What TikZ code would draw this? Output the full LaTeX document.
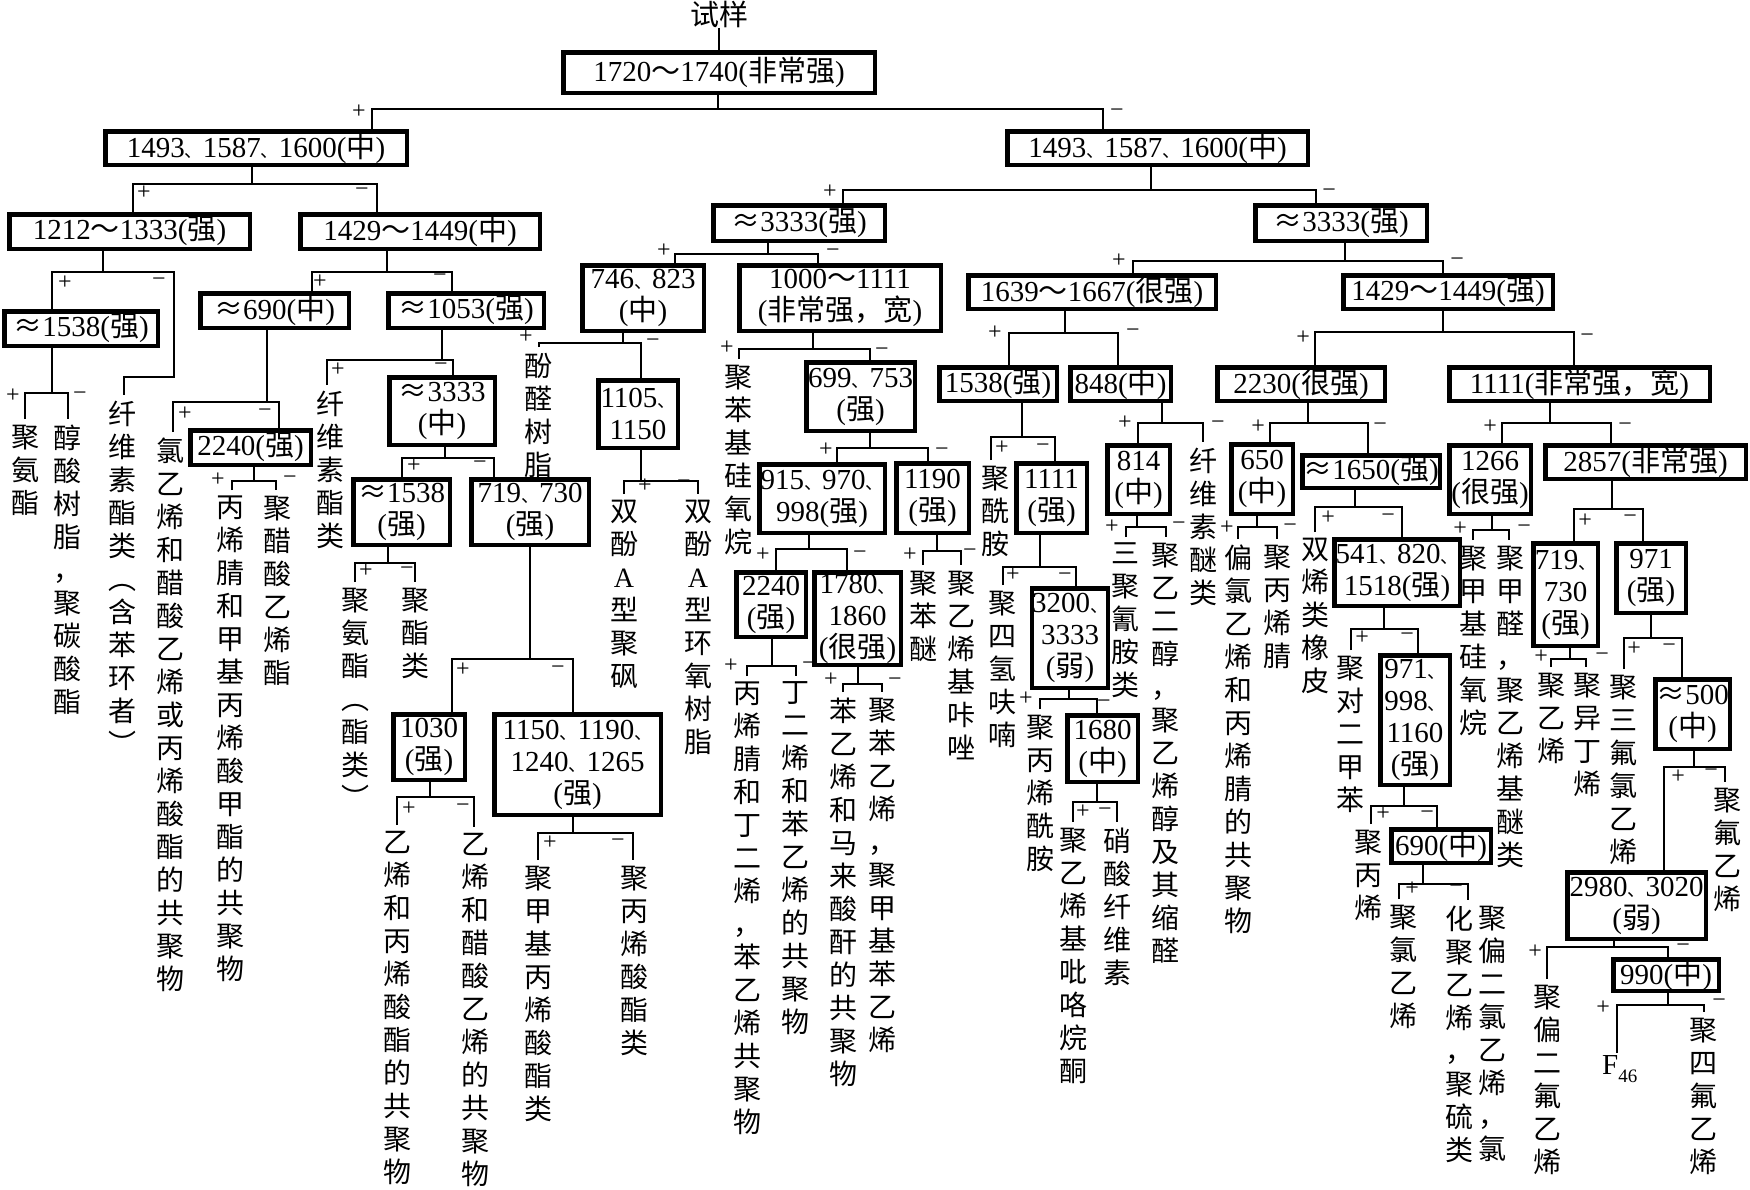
\documentclass[tikz,border=0pt]{standalone}
\usepackage{fontspec}
\setmainfont{Liberation Serif}
\newfontfamily\cjk{Noto Sans CJK SC}
\newcommand\Zh[1]{{\cjk #1}}
\newcommand\Dn{{\cjk\fontsize{18}{18}\selectfont 、}}
\newcommand\Tl{{\cjk ～}}
\newcommand\Ap{{\cjk ≈}}
\newcommand\myA{{\rmfamily A}}
\def\stackA#1{\ifx\relax#1\else\hbox to 28pt{\hss#1\hss}\expandafter\stackA\fi}
\newcommand\Stk[1]{\vbox{\baselineskip=33pt\lineskiplimit=-40pt\lineskip=0pt\stackA#1\relax}}
\newcommand\Bx[6]{\node[bx,minimum width={#4-#2-4.5},minimum height={#5-#3-4.5}] (#1) at ({(#2+#4)/2},{(#3+#5)/2}) {#6};}
\newcommand\Vt[4]{\node[lab] (#1) at (#2,{#3-18}) {\Stk{#4}};}
\newcommand\Br[7]{\draw[ln] (#1.south -| #2,0) -- (#2,#3);
  \draw[ln] (#5.north -| #4,0) |- (#6,#3) -- (#7.north -| #6,0);}
\newcommand\Sg[4]{\node[sgn] (#1) at (#2,#3) {#4};}
\begin{document}
\begin{tikzpicture}[x=1pt,y=-1pt,
 bx/.style={draw,line width=4.5pt,inner sep=0pt,align=center,font=\fontsize{29}{32}\selectfont},
 lab/.style={anchor=north,inner sep=0pt,outer xsep=0pt,outer ysep=6pt,font=\cjk\fontsize{28}{33}\selectfont},
 ln/.style={line width=1.6pt},
 sgn/.style={inner sep=0pt,font=\fontsize{24}{24}\selectfont}]
\useasboundingbox (0,0) rectangle (1750,1189);

\node[inner sep=0pt,font=\cjk\fontsize{29}{32}\selectfont] (T) at (719,14) {试样};
\Bx{R}{561}{50}{877}{95}{1720\Tl1740(\Zh{非常强})}
\draw[ln] (T.south) -- (R.north);

\Bx{A}{103}{129}{409}{167}{1493\Dn1587\Dn1600(\Zh{中})}
\Bx{B}{1005}{129}{1310}{167}{1493\Dn1587\Dn1600(\Zh{中})}
\Br{R}{718}{109}{372}{A}{1103}{B}
\Sg{s1}{359}{112}{+} \Sg{s2}{1117}{113}{−}

% ---------- left half ----------
\Bx{A1}{7}{212}{252}{251}{1212\Tl1333(\Zh{强})}
\Bx{A2}{298}{212}{542}{251}{1429\Tl1449(\Zh{中})}
\Br{A}{252}{184}{133}{A1}{377}{A2}
\Sg{s3}{144}{193}{+} \Sg{s4}{362}{192}{−}

\Bx{A1a}{2}{309}{160}{348}{\Ap1538(\Zh{强})}
\Vt{Lc}{122}{413}{纤维素酯类︵含苯环者︶}
\draw[ln] (A1.south -| 103,0) -- (103,272);
\draw[ln] (A1a.north -| 52,0) |- (174,272) -- (174,377) -| (Lc.north -| 124,0);
\Sg{s5}{65}{283}{+} \Sg{s6}{159}{282}{−}

\Vt{L1}{26}{437}{聚氨酯}
\Vt{L2}{67}{437}{醇酸树脂，聚碳酸酯}
\Br{A1a}{52}{393}{25}{L1}{68}{L2}
\Sg{s7}{13}{396}{+} \Sg{s8}{80}{396}{−}

\Bx{A2a}{198}{291}{351}{330}{\Ap690(\Zh{中})}
\Bx{A2b}{386}{291}{546}{330}{\Ap1053(\Zh{强})}
\Br{A2}{387}{272}{312}{A2a}{452}{A2b}
\Sg{s9}{320}{282}{+} \Sg{s10}{440}{278}{−}

\Vt{L3}{170}{450}{氯乙烯和醋酸乙烯或丙烯酸酯的共聚物}
\Bx{A2a2}{188}{428}{313}{467}{2240(\Zh{强})}
\Br{A2a}{267}{402}{173}{L3}{279}{A2a2}
\Sg{s11}{185}{414}{+} \Sg{s12}{265}{413}{−}

\Vt{L4}{230}{508}{丙烯腈和甲基丙烯酸甲酯的共聚物}
\Vt{L5}{277}{508}{聚醋酸乙烯酯}
\Br{A2a2}{254}{481}{232}{L4}{276}{L5}
\Sg{s13}{218}{480}{+} \Sg{s14}{290}{480}{−}

\Vt{L6}{330}{403}{纤维素酯类}
\Bx{A2b2}{387}{375}{497}{447}{\Ap3333\\(\Zh{中})}
\Br{A2b}{442}{360}{327}{L6}{453}{A2b2}
\Sg{s15}{338}{370}{+} \Sg{s16}{441}{367}{−}

\Bx{A2b2a}{351}{477}{452}{547}{\Ap1538\\(\Zh{强})}
\Bx{A2b2b}{469}{477}{591}{547}{719\Dn730\\(\Zh{强})}
\Br{A2b2}{445}{458}{402}{A2b2a}{494}{A2b2b}
\Sg{s17}{414}{466}{+} \Sg{s18}{480}{465}{−}

\Vt{L7}{355}{600}{聚氨酯︵酯类︶}
\Vt{L8}{415}{600}{聚酯类}
\Br{A2b2a}{388}{563}{355}{L7}{415}{L8}
\Sg{s19}{366}{571}{+} \Sg{s20}{407}{571}{−}

\Bx{C1030}{391}{712}{467}{782}{1030\\(\Zh{强})}
\Bx{C1150}{492}{712}{663}{817}{1150\Dn1190\Dn\\1240\Dn1265\\(\Zh{强})}
\Br{A2b2b}{530}{659}{452}{C1030}{573}{C1150}
\Sg{s21}{463}{670}{+} \Sg{s22}{558}{670}{−}

\Vt{L9}{397}{843}{乙烯和丙烯酸酯的共聚物}
\Vt{L10}{475}{845}{乙烯和醋酸乙烯的共聚物}
\Br{C1030}{430}{797}{397}{L9}{474}{L10}
\Sg{s23}{409}{809}{+} \Sg{s24}{463}{808}{−}

\Vt{L11}{538}{878}{聚甲基丙烯酸酯类}
\Vt{L12}{634}{878}{聚丙烯酸酯类}
\Br{C1150}{573}{833}{538}{L11}{633}{L12}
\Sg{s25}{550}{843}{+} \Sg{s26}{618}{843}{−}

% ---------- right half ----------
\Bx{B1}{711}{203}{887}{243}{\Ap3333(\Zh{强})}
\Bx{B2}{1253}{203}{1429}{243}{\Ap3333(\Zh{强})}
\Br{B}{1151}{190}{843}{B1}{1316}{B2}
\Sg{s27}{830}{192}{+} \Sg{s28}{1329}{193}{−}

\Bx{B1a}{580}{263}{706}{333}{746\Dn823\\(\Zh{中})}
\Bx{B1b}{737}{263}{943}{333}{1000\Tl1111\\(\Zh{非常强，宽})}
\Br{B1}{768}{254}{675}{B1a}{818}{B1b}
\Sg{s29}{664}{251}{+} \Sg{s30}{833}{253}{−}

\Vt{L13}{538}{365}{酚醛树脂}
\Bx{B1a2}{596}{378}{680}{450}{1105\Dn\\1150}
\Br{B1a}{623}{343}{539}{L13}{641}{B1a2}
\Sg{s31}{526}{337}{+} \Sg{s32}{653}{343}{−}

\Vt{L14}{624}{512}{双酚\myA 型聚砜}
\Vt{L15}{698}{512}{双酚\myA 型环氧树脂}
\Br{B1a2}{641}{481}{624}{L14}{698}{L15}
\Sg{s33}{645}{486}{+} \Sg{s34}{684}{484}{−}

\Vt{L16}{738}{377}{聚苯基硅氧烷}
\Bx{B1b2}{804}{360}{917}{433}{699\Dn753\\(\Zh{强})}
\Br{B1b}{813}{349}{739}{L16}{870}{B1b2}
\Sg{s35}{727}{348}{+} \Sg{s36}{882}{352}{−}

\Bx{B1b2a}{757}{462}{887}{535}{915\Dn970\Dn\\998(\Zh{强})}
\Bx{B1b2b}{894}{461}{971}{535}{1190\\(\Zh{强})}
\Br{B1b2}{870}{448}{837}{B1b2a}{928}{B1b2b}
\Sg{s37}{826}{450}{+} \Sg{s38}{942}{452}{−}

\Bx{C2240}{734}{570}{808}{639}{2240\\(\Zh{强})}
\Bx{C1780}{812}{570}{903}{667}{1780\Dn\\1860\\(\Zh{很强})}
\Br{B1b2a}{809}{549}{776}{C2240}{847}{C1780}
\Sg{s39}{763}{555}{+} \Sg{s40}{860}{555}{−}

\Vt{L17}{747}{694}{丙烯腈和丁二烯，苯乙烯共聚物}
\Vt{L18}{795}{694}{丁二烯和苯乙烯的共聚物}
\Br{C2240}{772}{666}{747}{L17}{796}{L18}
\Sg{s41}{731}{666}{+} \Sg{s42}{809}{666}{−}

\Vt{L19}{843}{710}{苯乙烯和马来酸酐的共聚物}
\Vt{L20}{882}{710}{聚苯乙烯，聚甲基苯乙烯}
\Br{C1780}{858}{684}{843}{L19}{882}{L20}
\Sg{s43}{831}{680}{+} \Sg{s44}{895}{682}{−}

\Vt{L21}{923}{583}{聚苯醚}
\Vt{L22}{961}{583}{聚乙烯基咔唑}
\Br{B1b2b}{937}{551}{923}{L21}{961}{L22}
\Sg{s45}{910}{555}{+} \Sg{s46}{970}{553}{−}

\Bx{B2a}{966}{273}{1218}{311}{1639\Tl1667(\Zh{很强})}
\Bx{B2b}{1341}{273}{1555}{311}{1429\Tl1449(\Zh{强})}
\Br{B2}{1345}{261}{1133}{B2a}{1443}{B2b}
\Sg{s47}{1119}{261}{+} \Sg{s48}{1457}{262}{−}

\Bx{B2a1}{937}{365}{1059}{403}{1538(\Zh{强})}
\Bx{B2a2}{1068}{365}{1173}{403}{848(\Zh{中})}
\Br{B2a}{1065}{333}{1009}{B2a1}{1118}{B2a2}
\Sg{s49}{995}{333}{+} \Sg{s50}{1133}{333}{−}

\Vt{L23}{995}{478}{聚酰胺}
\Bx{D1111}{1014}{461}{1089}{535}{1111\\(\Zh{强})}
\Br{B2a1}{1022}{437}{991}{L23}{1055}{D1111}
\Sg{s51}{1002}{448}{+} \Sg{s52}{1043}{448}{−}

\Vt{L24}{1002}{603}{聚四氢呋喃}
\Bx{D3200}{1030}{586}{1110}{690}{3200\Dn\\3333\\(\Zh{弱})}
\Br{D1111}{1040}{567}{1003}{L24}{1076}{D3200}
\Sg{s53}{1013}{575}{+} \Sg{s54}{1065}{577}{−}

\Vt{L25}{1040}{727}{聚丙烯酰胺}
\Bx{D1680}{1065}{713}{1140}{784}{1680\\(\Zh{中})}
\Br{D3200}{1069}{699}{1040}{L25}{1097}{D1680}
\Sg{s55}{1026}{699}{+} \Sg{s56}{1104}{704}{−}

\Vt{L26}{1073}{840}{聚乙烯基吡咯烷酮}
\Vt{L27}{1117}{840}{硝酸纤维素}
\Br{D1680}{1097}{802}{1073}{L26}{1117}{L27}
\Sg{s57}{1083}{812}{+} \Sg{s58}{1105}{812}{−}

\Bx{D814}{1105}{443}{1172}{516}{814\\(\Zh{中})}
\Vt{L28}{1203}{460}{纤维素醚类}
\Br{B2a2}{1162}{423}{1138}{D814}{1203}{L28}
\Sg{s59}{1125}{423}{+} \Sg{s60}{1218}{425}{−}

\Vt{L29}{1125}{555}{三聚氰胺类}
\Vt{L30}{1165}{555}{聚乙二醇，聚乙烯醇及其缩醛}
\Br{D814}{1137}{527}{1126}{L29}{1166}{L30}
\Sg{s61}{1112}{527}{+} \Sg{s62}{1179}{526}{−}

\Bx{B2b1}{1215}{365}{1387}{403}{2230(\Zh{很强})}
\Bx{B2b2}{1447}{365}{1712}{403}{1111(\Zh{非常强，宽})}
\Br{B2b}{1443}{332}{1315}{B2b1}{1574}{B2b2}
\Sg{s63}{1303}{338}{+} \Sg{s64}{1587}{338}{−}

\Bx{E650}{1229}{442}{1295}{516}{650\\(\Zh{中})}
\Bx{E1650}{1300}{453}{1442}{490}{\Ap1650(\Zh{强})}
\Br{B2b1}{1308}{423}{1270}{E650}{1368}{E1650}
\Sg{s65}{1258}{427}{+} \Sg{s66}{1380}{427}{−}

\Vt{L31}{1238}{557}{偏氯乙烯和丙烯腈的共聚物}
\Vt{L32}{1277}{557}{聚丙烯腈}
\Br{E650}{1257}{527}{1238}{L31}{1277}{L32}
\Sg{s67}{1227}{528}{+} \Sg{s68}{1290}{528}{−}

\Vt{L33}{1315}{550}{双烯类橡皮}
\Bx{E541}{1332}{537}{1462}{608}{541\Dn820\Dn\\1518(\Zh{强})}
\Br{E1650}{1355}{507}{1315}{L33}{1402}{E541}
\Sg{s69}{1328}{518}{+} \Sg{s70}{1388}{518}{−}

\Vt{L34}{1350}{668}{聚对二甲苯}
\Bx{E971}{1378}{653}{1452}{787}{971\Dn\\998\Dn\\1160\\(\Zh{强})}
\Br{E541}{1384}{629}{1351}{L34}{1418}{E971}
\Sg{s71}{1362}{638}{+} \Sg{s72}{1407}{637}{−}

\Vt{L35}{1368}{842}{聚丙烯}
\Bx{E690}{1389}{827}{1493}{865}{690(\Zh{中})}
\Br{E971}{1404}{806}{1371}{L35}{1437}{E690}
\Sg{s73}{1383}{814}{+} \Sg{s74}{1427}{815}{−}

\Vt{L36}{1403}{917}{聚氯乙烯}
\Vt{L37a}{1459}{918}{化聚乙烯，聚硫类}
\Vt{L37b}{1492}{918}{聚偏二氯乙烯，氯}
\Br{E690}{1423}{884}{1399}{L36}{1468}{L37a}
\Sg{s75}{1412}{889}{+} \Sg{s76}{1456}{889}{−}

\Bx{F1266}{1447}{443}{1533}{516}{1266\\(\Zh{很强})}
\Bx{F2857}{1543}{443}{1748}{481}{2857(\Zh{非常强})}
\Br{B2b2}{1550}{423}{1502}{F1266}{1611}{F2857}
\Sg{s77}{1490}{427}{+} \Sg{s78}{1625}{427}{−}

\Vt{L38}{1473}{558}{聚甲基硅氧烷}
\Vt{L39}{1510}{558}{聚甲醛，聚乙烯基醚类}
\Br{F1266}{1492}{530}{1473}{L38}{1509}{L39}
\Sg{s79}{1460}{529}{+} \Sg{s80}{1524}{529}{−}

\Bx{F719}{1531}{541}{1600}{648}{719\Dn\\730\\(\Zh{强})}
\Bx{F971}{1614}{541}{1688}{615}{971\\(\Zh{强})}
\Br{F2857}{1612}{509}{1574}{F719}{1643}{F971}
\Sg{s81}{1585}{521}{+} \Sg{s82}{1630}{519}{−}

\Vt{L40}{1551}{685}{聚乙烯}
\Vt{L41}{1587}{685}{聚异丁烯}
\Br{F719}{1570}{659}{1551}{L40}{1586}{L41}
\Sg{s83}{1541}{657}{+} \Sg{s84}{1602}{657}{−}

\Vt{L42}{1623}{687}{聚三氟氯乙烯}
\Bx{F500}{1653}{677}{1732}{751}{\Ap500\\(\Zh{中})}
\Br{F971}{1651}{638}{1624}{L42}{1682}{F500}
\Sg{s85}{1634}{649}{+} \Sg{s86}{1669}{648}{−}

\Bx{F2980}{1565}{870}{1708}{941}{2980\Dn3020\\(\Zh{弱})}
\Vt{L43}{1727}{800}{聚氟乙烯}
\Br{F500}{1694}{767}{1664}{F2980}{1725}{L43}
\Sg{s87}{1678}{777}{+} \Sg{s88}{1711}{773}{−}

\Vt{L44}{1547}{997}{聚偏二氟乙烯}
\Bx{F990}{1611}{957}{1721}{993}{990(\Zh{中})}
\Br{F2980}{1614}{947}{1547}{L44}{1668}{F990}
\Sg{s89}{1535}{952}{+} \Sg{s90}{1683}{948}{−}

\node[anchor=north west,inner sep=0pt,outer ysep=2pt,font=\fontsize{29}{29}\selectfont] (L45) at (1602,1053) {F\raisebox{-0.3em}{\fontsize{19}{19}\selectfont 46}};
\Vt{L46}{1703}{1030}{聚四氟乙烯}
\Br{F990}{1668}{1005}{1617}{L45}{1704}{L46}
\Sg{s91}{1603}{1008}{+} \Sg{s92}{1719}{1003}{−}
\end{tikzpicture}
\end{document}
